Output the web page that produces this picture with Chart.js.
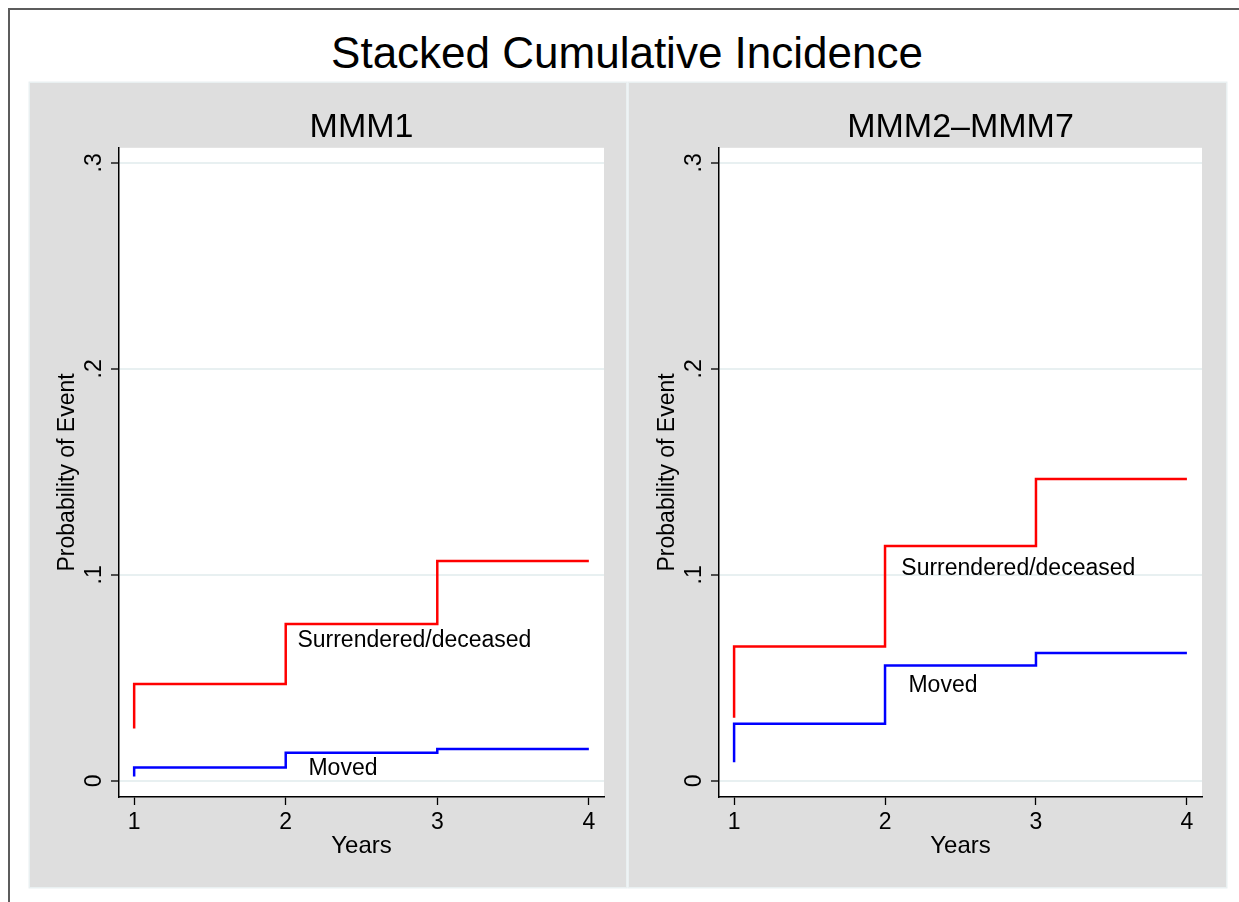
<!DOCTYPE html>
<html>
<head>
<meta charset="utf-8">
<script src="https://cdn.jsdelivr.net/npm/chart.js@4.4.1/dist/chart.umd.min.js"></script>
<style>
  html, body { margin: 0; padding: 0; background: #fff; overflow: hidden; }
  body { width: 1239px; height: 902px; position: relative;
         font-family: "Liberation Sans", Arial, sans-serif; }
  .frame { position: absolute; left: 8px; top: 8px; width: 1229px; height: 892px;
           border-left: 2px solid #5c5c5c; border-top: 2px solid #5c5c5c; }
  .title { position: absolute; left: 0; width: 1254px; top: 31px; text-align: center;
           font-size: 44px; line-height: 44px; color: #000; }
  .panel { position: absolute; top: 83px; height: 804px; background: #dedede;
           box-shadow: 0 0 0 1.5px #e9f0f1; }
  #p1 { left: 30px; width: 596px; }
  #p2 { left: 629px; width: 597px; }
</style>
</head>
<body>
<div class="frame"></div>
<div class="title">Stacked Cumulative Incidence</div>
<div class="panel" id="p1"><canvas id="c1" width="596" height="804"></canvas></div>
<div class="panel" id="p2"><canvas id="c2" width="597" height="804"></canvas></div>
<script>
// step data: the first year appears twice (value at start, then first jump)
const years = [1, 1, 2, 3, 4];
const mmm1Surrendered = [0.0255, 0.047, 0.0762, 0.1068, 0.1068];
const mmm1Moved = [0.0021, 0.0065, 0.0137, 0.0155, 0.0155];
const mmm27Surrendered = [0.0307, 0.0652, 0.114, 0.1466, 0.1466];
const mmm27Moved = [0.0091, 0.0278, 0.056, 0.0621, 0.0621];

const yearTicks = [1, 2, 3, 4];
const probTicks = [0, 0.1, 0.2, 0.3];
const probTickLabels = ['0', '.1', '.2', '.3'];

const seriesNames = ['Surrendered/deceased', 'Moved'];
// where the series names sit, in data units (x = years, y = probability)
const mmm1NameX = [2.077, 2.15];
const mmm1NameY = [0.068, 0.0058];
const mmm27NameX = [2.108, 2.155];
const mmm27NameY = [0.1029, 0.0461];

Chart.defaults.font.family = '"Liberation Sans", Arial, sans-serif';
Chart.defaults.color = '#000';

const whiteArea = {
    id: 'whiteArea',
    beforeDraw(chart) {
        const { ctx, chartArea: a } = chart;
        ctx.save();
        ctx.fillStyle = '#fff';
        ctx.fillRect(a.left, a.top, a.right - a.left, a.bottom - a.top);
        ctx.restore();
    }
};

// Stata-style y labels, turned to read bottom to top
const yLabels = {
    id: 'yLabels',
    afterDraw(chart) {
        const { ctx } = chart;
        const y = chart.scales.y;
        ctx.save();
        ctx.font = '23px "Liberation Sans", Arial, sans-serif';
        ctx.fillStyle = '#000';
        ctx.textAlign = 'center';
        ctx.textBaseline = 'middle';
        probTicks.forEach((v, i) => {
            ctx.save();
            ctx.translate(chart.chartArea.left - 24, y.getPixelForValue(v));
            ctx.rotate(-Math.PI / 2);
            ctx.fillText(probTickLabels[i], 0, 0);
            ctx.restore();
        });
        ctx.restore();
    }
};

const seriesLabels = {
    id: 'seriesLabels',
    afterDatasetsDraw(chart, args, opts) {
        const { ctx } = chart;
        ctx.save();
        ctx.font = '23px "Liberation Sans", Arial, sans-serif';
        ctx.fillStyle = '#000';
        ctx.textAlign = 'left';
        ctx.textBaseline = 'middle';
        seriesNames.forEach((name, i) => {
            ctx.fillText(name,
                chart.scales.x.getPixelForValue(opts.xs[i]),
                chart.scales.y.getPixelForValue(opts.ys[i]));
        });
        ctx.restore();
    }
};

const makePanel = (ctx, title, surrendered, moved, nameX, nameY, padLeft, padRight) => {
    const toPoints = (vals) => vals.map((v, i) => ({ x: years[i], y: v }));
    return new Chart(ctx, {
        type: 'line',
        data: {
            datasets: [{
                label: seriesNames[0],
                data: toPoints(surrendered),
                borderColor: '#ff0000',
                borderWidth: 2.5,
                stepped: 'before',
                pointRadius: 0,
                fill: false
            }, {
                label: seriesNames[1],
                data: toPoints(moved),
                borderColor: '#0000ff',
                borderWidth: 2.5,
                stepped: 'before',
                pointRadius: 0,
                fill: false
            }]
        },
        options: {
            responsive: false,
            animation: false,
            layout: { padding: { left: padLeft, right: padRight, top: 0, bottom: 26 } },
            plugins: {
                legend: { display: false },
                tooltip: { enabled: false },
                title: {
                    display: true,
                    text: title,
                    fullSize: false,
                    color: '#000',
                    font: { size: 34, weight: 'normal' },
                    padding: { top: 24, bottom: 0 }
                },
                seriesLabels: { xs: nameX, ys: nameY }
            },
            scales: {
                x: {
                    type: 'linear',
                    min: 0.9,
                    max: 4.1,
                    afterBuildTicks: (s) => { s.ticks = yearTicks.map(v => ({ value: v })); },
                    afterFit: (s) => { s.height = 64; },
                    grid: { drawOnChartArea: false, drawTicks: true, tickLength: 8, tickColor: '#000', tickWidth: 1.3 },
                    border: { display: true, color: '#000', width: 1.5 },
                    ticks: { color: '#000', font: { size: 23 }, padding: 4, maxRotation: 0 },
                    title: { display: true, text: 'Years', color: '#000', font: { size: 24 }, padding: { top: 0, bottom: 0 } }
                },
                y: {
                    type: 'linear',
                    min: -0.0078,
                    max: 0.3073,
                    afterBuildTicks: (s) => { s.ticks = probTicks.map(v => ({ value: v })); },
                    afterFit: (s) => { s.width = 65; },
                    grid: { color: '#e8f0f1', lineWidth: 2, drawTicks: true, tickLength: 8, tickColor: '#000', tickWidth: 1.3 },
                    border: { display: true, color: '#000', width: 1.5 },
                    ticks: { display: false },
                    title: { display: true, text: 'Probability of Event', color: '#000', font: { size: 23 }, padding: { top: 0, bottom: 0 } }
                }
            }
        },
        plugins: [whiteArea, yLabels, seriesLabels]
    });
};

makePanel(document.getElementById('c1'), 'MMM1', mmm1Surrendered, mmm1Moved, mmm1NameX, mmm1NameY, 24, 22);
makePanel(document.getElementById('c2'), 'MMM2\u2013MMM7', mmm27Surrendered, mmm27Moved, mmm27NameX, mmm27NameY, 25, 24);
</script>
</body>
</html>
